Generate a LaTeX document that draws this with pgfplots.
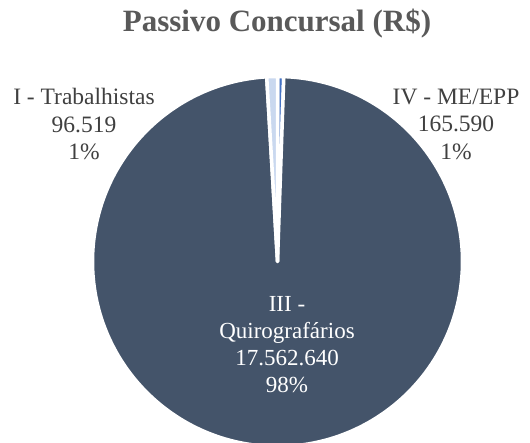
\documentclass[border=0pt]{standalone}
\usepackage{fontspec}
\setmainfont{Liberation Serif}
\usepackage{pgfplots}
\pgfplotsset{compat=1.18}
\usepackage{pgfplotstable}

\definecolor{slate}{HTML}{44546A}
\definecolor{midblue}{HTML}{4472C4}
\definecolor{paleblue}{HTML}{C9D8EF}
\definecolor{lbl}{HTML}{404040}
\definecolor{ttl}{HTML}{595959}

% classes of the passivo, clockwise from 12 o'clock
\pgfplotstableread{
name value
I 96519
III 17562640
IV 165590
}\passivo

\begin{document}
\begin{tikzpicture}
\pgfplotstablegetelem{0}{value}\of\passivo \edef\va{\pgfplotsretval}
\pgfplotstablegetelem{1}{value}\of\passivo \edef\vb{\pgfplotsretval}
\pgfplotstablegetelem{2}{value}\of\passivo \edef\vc{\pgfplotsretval}
\edef\total{\fpeval{\va+\vb+\vc}}
\edef\aI{\fpeval{90-360*\va/\total}}
\edef\aIII{\fpeval{90-360*(\va+\vb)/\total}}
\def\R{185pt}
\begin{axis}[
    width=530pt, height=443pt, scale only axis,
    xmin=0, xmax=530, ymin=0, ymax=443,
    hide axis, clip=true,
]
\addplot[draw=none] coordinates {(0,0) (530,443)};
\coordinate (c) at (axis cs:277.5,181.5);
\filldraw[midblue, draw=white, line width=3.5pt, line join=round]
    (c) -- ++(90:\R) arc[start angle=90, end angle=\aI, radius=\R] -- cycle;
\filldraw[slate, draw=white, line width=3.5pt, line join=round]
    (c) -- ++(\aI:\R) arc[start angle=\aI, end angle=\aIII, radius=\R] -- cycle;
\filldraw[paleblue, draw=white, line width=3.5pt, line join=round]
    (c) -- ++(\aIII:\R) arc[start angle=\aIII, end angle=-270, radius=\R] -- cycle;

\node[text=ttl, font=\fontsize{31}{36}\selectfont\bfseries]
    at (axis cs:277,419) {Passivo Concursal (R\$)};
\node[text=lbl, align=center, font=\fontsize{23.5}{27.5}\selectfont]
    at (axis cs:84,318.6) {I - Trabalhistas\\96.519\\1\%};
\node[text=lbl, align=center, font=\fontsize{23.5}{27.5}\selectfont]
    at (axis cs:456,318.6) {IV - ME/EPP\\165.590\\1\%};
\node[text=white, align=center, font=\fontsize{23}{27}\selectfont]
    at (axis cs:287,98.5) {III -\\Quirografários\\17.562.640\\98\%};
\end{axis}
\pgfresetboundingbox
\useasboundingbox (current axis.south west) rectangle (current axis.north east);
\end{tikzpicture}
\end{document}
